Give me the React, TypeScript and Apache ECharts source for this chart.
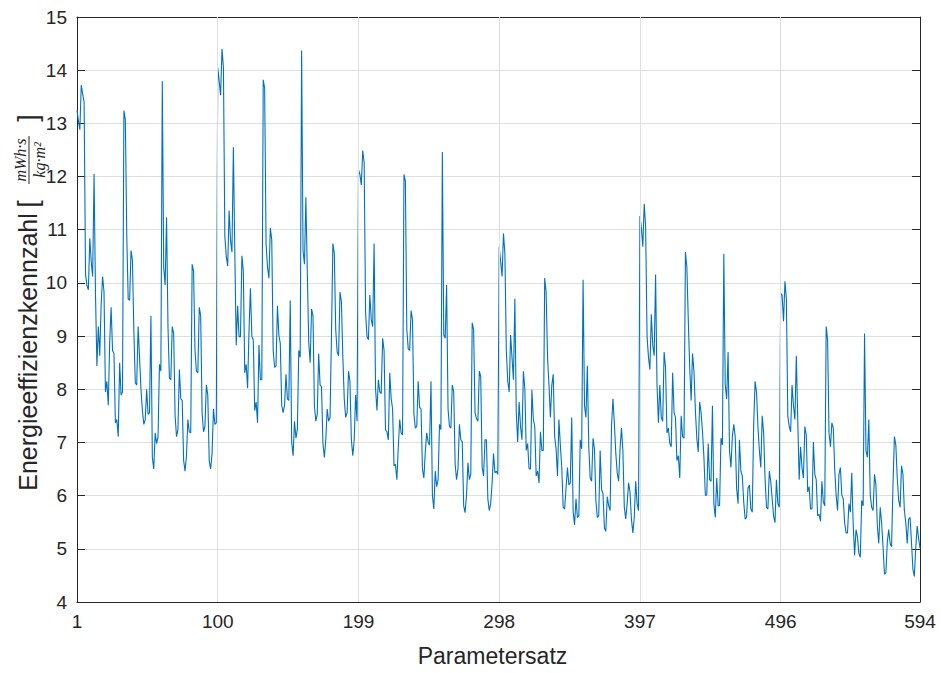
import React, { useEffect, useRef } from "react";
import * as echarts from "echarts";

// Energieeffizienzkennzahl per Parametersatz, six blocks of 99 sets
const block1 = [
  13.25, 13.05, 12.88, 13.72, 13.55, 13.4, 10.16, 9.95, 9.87, 10.84, 10.4, 10.12, 12.05, 9.8, 8.44, 9.18, 8.63, 9.6, 10.12, 9.83,
  7.95, 8.15, 7.7, 8.9, 9.54, 8.73, 8.67, 7.37, 7.43, 7.11, 8.5, 7.89, 7.95, 13.24, 13.07, 10.9, 9.7, 9.67, 10.61, 10.42,
  9.1, 8.12, 8.08, 9.18, 8.6, 8.0, 7.6, 7.34, 7.43, 8.0, 7.53, 7.56, 9.38, 6.72, 6.5, 7.18, 6.98, 7.11, 8.47, 8.34,
  13.79, 10.29, 9.96, 11.23, 9.18, 8.21, 8.18, 9.18, 9.05, 7.5, 7.11, 7.24, 8.37, 7.82, 7.79, 6.66, 6.46, 6.75, 7.43, 7.2,
  7.18, 10.35, 10.22, 8.73, 8.34, 8.31, 9.54, 9.38, 7.56, 7.2, 7.3, 8.08, 7.89, 6.66, 6.5, 6.79, 7.63, 7.34, 7.37,
];
const block2 = [
  14.05, 13.8, 13.53, 14.4, 14.05, 10.87, 10.5, 10.32, 11.36, 10.8, 10.58, 12.55, 10.6, 8.83, 9.57, 8.99, 8.99, 10.51, 10.22, 8.31,
  8.47, 8.02, 9.1, 9.9, 8.99, 8.93, 7.6, 7.76, 7.37, 8.83, 8.18, 8.18, 13.82, 13.66, 10.74, 10.3, 10.09, 11.03, 10.81, 8.73,
  8.41, 8.44, 9.57, 9.02, 8.86, 7.69, 7.56, 7.7, 8.28, 7.82, 7.79, 9.67, 7.01, 6.75, 7.4, 7.08, 7.24, 8.73, 8.6, 14.37,
  10.61, 10.35, 11.61, 10.2, 8.89, 8.5, 9.51, 9.38, 7.69, 7.4, 7.53, 8.67, 8.08, 8.05, 6.98, 6.72, 7.05, 7.63, 7.4, 7.47,
  9.0, 10.74, 10.55, 9.12, 8.7, 8.63, 9.83, 9.64, 8.6, 7.82, 7.47, 7.56, 8.34, 8.15, 7.05, 6.75, 7.05, 7.89, 7.4,
];
const block3 = [
  12.13, 12.04, 11.84, 12.49, 12.26, 9.44, 8.99, 8.93, 9.77, 9.31, 9.18, 10.74, 8.02, 7.6, 8.18, 7.95, 7.92, 8.96, 8.73, 7.24,
  7.2, 7.05, 8.31, 7.82, 7.63, 6.56, 6.59, 6.3, 6.9, 7.43, 7.18, 7.14, 12.04, 11.91, 9.12, 8.76, 8.73, 9.48, 9.31, 7.53,
  7.27, 7.3, 8.15, 7.66, 7.63, 6.5, 6.33, 6.82, 7.18, 7.01, 6.95, 8.15, 6.01, 5.75, 6.46, 6.17, 6.3, 7.34, 7.24, 12.46,
  9.02, 8.96, 9.96, 7.63, 7.3, 7.27, 8.08, 7.95, 6.59, 6.3, 6.5, 7.34, 7.05, 7.01, 5.81, 5.68, 6.01, 6.62, 6.3, 6.4,
  9.25, 9.12, 7.56, 7.45, 7.4, 8.34, 8.24, 6.53, 6.37, 7.05, 7.05, 5.94, 5.72, 5.85, 6.24, 6.79, 6.43, 6.46, 6.4,
];
const block4 = [
  10.68, 10.4, 10.12, 10.93, 10.55, 8.73, 8.15, 7.95, 9.02, 8.6, 8.18, 9.7, 7.56, 7.01, 7.76, 7.3, 7.05, 8.34, 8.02, 6.85,
  6.98, 6.5, 6.5, 7.99, 7.43, 7.3, 6.37, 6.46, 6.24, 7.2, 6.85, 6.85, 10.09, 9.83, 8.6, 8.08, 7.47, 8.08, 8.28, 7.11,
  6.88, 6.37, 7.43, 6.95, 6.53, 5.78, 5.75, 6.14, 6.53, 6.2, 6.24, 7.47, 5.7, 5.45, 5.94, 5.59, 5.62, 7.05, 6.88, 10.06,
  7.69, 7.47, 8.44, 6.92, 6.33, 6.27, 7.08, 6.88, 5.91, 5.59, 5.62, 6.85, 6.11, 6.04, 5.39, 5.33, 5.98, 5.81, 5.72, 7.3,
  7.82, 7.37, 6.8, 6.43, 6.27, 6.88, 7.27, 6.85, 5.78, 5.56, 5.85, 6.24, 6.07, 5.56, 5.3, 5.59, 6.27, 5.85, 5.72,
];
const block5 = [
  11.26, 11.03, 10.68, 11.49, 11.06, 8.99, 8.6, 8.37, 9.41, 8.83, 8.63, 10.16, 8.08, 7.37, 8.08, 7.47, 7.4, 8.7, 8.41, 7.18,
  7.27, 6.98, 6.92, 8.31, 7.56, 7.47, 6.66, 6.75, 6.33, 7.5, 7.11, 7.08, 10.58, 10.29, 9.3, 8.41, 7.79, 8.67, 8.34, 7.6,
  7.08, 6.82, 7.76, 7.56, 7.2, 6.72, 6.01, 6.01, 6.98, 6.3, 6.27, 7.69, 5.85, 5.59, 6.33, 5.81, 5.81, 7.08, 6.95, 10.55,
  8.08, 7.82, 8.7, 6.85, 6.53, 7.11, 7.34, 7.11, 6.14, 5.85, 7.05, 6.46, 6.37, 5.88, 5.56, 5.59, 6.14, 6.2, 5.75, 5.69,
  7.34, 8.15, 7.95, 7.3, 6.85, 6.53, 7.5, 7.18, 6.33, 5.78, 5.75, 6.46, 6.27, 5.94, 5.62, 5.49, 6.3, 5.85, 5.78,
];
const block6 = [
  9.8, 9.77, 9.28, 10.03, 9.7, 7.5, 7.3, 7.2, 8.08, 7.69, 7.43, 8.63, 7.43, 6.3, 6.92, 6.53, 6.33, 7.3, 7.14, 6.07,
  6.17, 5.75, 5.75, 7.01, 6.4, 6.3, 5.62, 5.65, 5.52, 6.27, 5.88, 5.81, 9.18, 8.93, 7.18, 6.92, 7.37, 7.27, 6.5, 6.01,
  5.72, 6.4, 6.53, 6.01, 5.94, 5.49, 5.3, 5.3, 5.85, 5.69, 6.43, 5.46, 4.88, 5.36, 5.23, 4.91, 4.84, 5.91, 5.81, 9.05,
  6.85, 6.72, 7.43, 6.01, 5.78, 5.72, 6.4, 6.2, 5.43, 5.1, 5.78, 5.49, 5.04, 4.52, 4.55, 5.13, 5.36, 5.1, 5.04, 6.2,
  7.11, 6.95, 6.33, 5.91, 5.78, 6.56, 6.4, 5.72, 5.49, 5.1, 5.56, 5.59, 5.13, 4.62, 4.48, 5.01, 5.43, 5.2, 5.01,
];

const xTickValues = [1, 100, 199, 298, 397, 496, 594];
const xGridValues = [100, 199, 298, 397, 496];
const yMin = 4;
const yMax = 15;

const energy = [...block1, ...block2, ...block3, ...block4, ...block5, ...block6];

const FONT = "'Liberation Sans', Arial, Helvetica, sans-serif";
const SERIF = "'Liberation Serif', 'Times New Roman', serif";
const DARK = "#262626";
const GRIDC = "#dfdfdf";

export default function App() {
  const ref = useRef<HTMLDivElement>(null);
  useEffect(() => {
    if (!ref.current) return;
    const chart = echarts.init(ref.current, undefined, { renderer: "svg" });
    const seriesData = energy.map((v, k) => [k + 1, v]);
    const axisLine = { show: true, lineStyle: { color: DARK, width: 1 } };
    const tick = { show: true, inside: true, length: 8, lineStyle: { color: DARK, width: 1 } };
    chart.setOption({
      animation: false,
      backgroundColor: "#ffffff",
      grid: { left: 77, right: 21, top: 17, bottom: 71, containLabel: false },
      xAxis: [
        {
          type: "value",
          min: 1,
          max: 594,
          position: "bottom",
          axisLine,
          axisTick: { ...tick, customValues: xTickValues },
          axisLabel: { customValues: xTickValues, fontSize: 19, color: DARK, margin: 10, fontFamily: FONT },
          splitLine: { show: false },
          name: "Parametersatz",
          nameLocation: "middle",
          nameGap: 42,
          nameTextStyle: { fontSize: 23, color: DARK, fontFamily: FONT, padding: [0, 12, 0, 0] },
        },
        {
          type: "value",
          min: 1,
          max: 594,
          position: "top",
          axisLine,
          axisTick: { ...tick, customValues: xTickValues },
          axisLabel: { show: false, customValues: xTickValues },
          splitLine: { show: false },
        },
      ],
      yAxis: [
        {
          type: "value",
          min: yMin,
          max: yMax,
          interval: 1,
          axisLine,
          axisTick: tick,
          axisLabel: { fontSize: 19, color: DARK, margin: 10, fontFamily: FONT },
          splitLine: { show: true, lineStyle: { color: GRIDC, width: 1 } },
        },
        {
          type: "value",
          min: yMin,
          max: yMax,
          interval: 1,
          position: "right",
          axisLine,
          axisTick: tick,
          axisLabel: { show: false },
          splitLine: { show: false },
        },
      ],
      series: [
        {
          type: "line",
          data: [],
          z: 1,
          silent: true,
          markLine: {
            silent: true,
            symbol: ["none", "none"],
            label: { show: false },
            lineStyle: { color: GRIDC, type: "solid", width: 1 },
            data: xGridValues.map((v) => ({ xAxis: v })),
          },
        },
        {
          type: "line",
          data: seriesData,
          showSymbol: false,
          symbol: "none",
          z: 3,
          lineStyle: { color: "#0072BD", width: 1.1 },
        },
      ],
      graphic: [
        {
          type: "group",
          x: 28,
          y: 300,
          rotation: Math.PI / 2,
          children: [
            {
              type: "text",
              x: -52,
              y: 0,
              style: { text: "Energieeffizienzkennzahl", font: `25px ${FONT}`, fill: DARK, textAlign: "center", textVerticalAlign: "middle" },
            },
            {
              type: "text",
              x: 96,
              y: 0,
              style: { text: "[", font: `27px ${FONT}`, fill: DARK, textAlign: "center", textVerticalAlign: "middle" },
            },
            {
              type: "text",
              x: 140,
              y: -8,
              style: { text: "mWh·s", font: `italic 16px ${SERIF}`, fill: DARK, textAlign: "center", textVerticalAlign: "middle" },
            },
            {
              type: "line",
              shape: { x1: 116, y1: 1, x2: 164, y2: 1 },
              style: { stroke: DARK, lineWidth: 1 },
            },
            {
              type: "text",
              x: 140,
              y: 11,
              style: { text: "kg·m²", font: `italic 16px ${SERIF}`, fill: DARK, textAlign: "center", textVerticalAlign: "middle" },
            },
            {
              type: "text",
              x: 182,
              y: 0,
              style: { text: "]", font: `27px ${FONT}`, fill: DARK, textAlign: "center", textVerticalAlign: "middle" },
            },
          ],
        },
      ],
    });
    return () => chart.dispose();
  }, []);
  return <div ref={ref} style={{ width: 941, height: 673, position: "absolute", left: 0, top: 0 }} />;
}
